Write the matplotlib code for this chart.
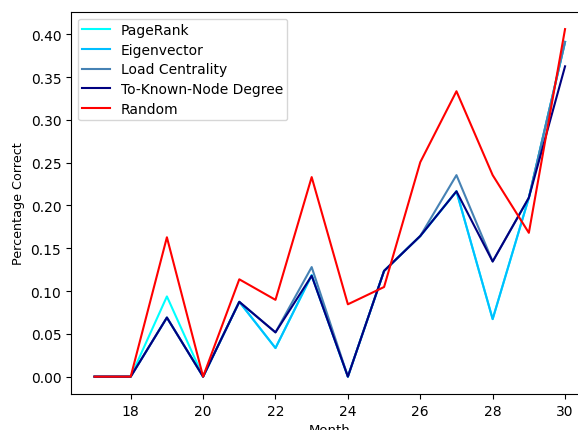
import matplotlib
matplotlib.use("Agg")
import matplotlib.pyplot as plt

months = [17, 18, 19, 20, 21, 22, 23, 24, 25, 26, 27, 28, 29, 30]
pagerank = [0, 0, 0.0937, 0, 0.0874, 0.0334, 0.1185, 0, 0.1235, 0.1643, 0.2165, 0.0672, 0.209, 0.391]
eigenvector = [0, 0, 0.069, 0, 0.0874, 0.0334, 0.1185, 0, 0.1235, 0.1643, 0.2165, 0.0672, 0.209, 0.391]
load_centrality = [0, 0, 0.069, 0, 0.0874, 0.0517, 0.128, 0, 0.1235, 0.1643, 0.2354, 0.1345, 0.209, 0.391]
known_degree = [0, 0, 0.069, 0, 0.0874, 0.0517, 0.1178, 0, 0.1235, 0.1643, 0.2165, 0.1345, 0.209, 0.3625]
random_sel = [0, 0, 0.1628, 0, 0.1137, 0.0897, 0.2331, 0.0845, 0.1047, 0.2505, 0.3334, 0.2354, 0.168, 0.406]

series = [
    ("PageRank", pagerank, "cyan"),
    ("Eigenvector", eigenvector, "deepskyblue"),
    ("Load Centrality", load_centrality, "steelblue"),
    ("To-Known-Node Degree", known_degree, "navy"),
    ("Random", random_sel, "red"),
]

DPI = 100
fig = plt.figure(figsize=(578 / DPI, 431 / DPI), dpi=DPI)
ax = fig.add_axes([0.1228, 0.0835, 0.8955, 0.887])
for label, vals, color in series:
    ax.plot(months, vals, color=color, label=label, linewidth=1.5)

ax.set_xlabel("Month", fontsize=9.5)
ax.set_ylabel("Percentage Correct", fontsize=9.2)
ax.legend(loc="upper left", labelspacing=0.42, borderpad=0.3)

fig.savefig("out.png", dpi=DPI)
